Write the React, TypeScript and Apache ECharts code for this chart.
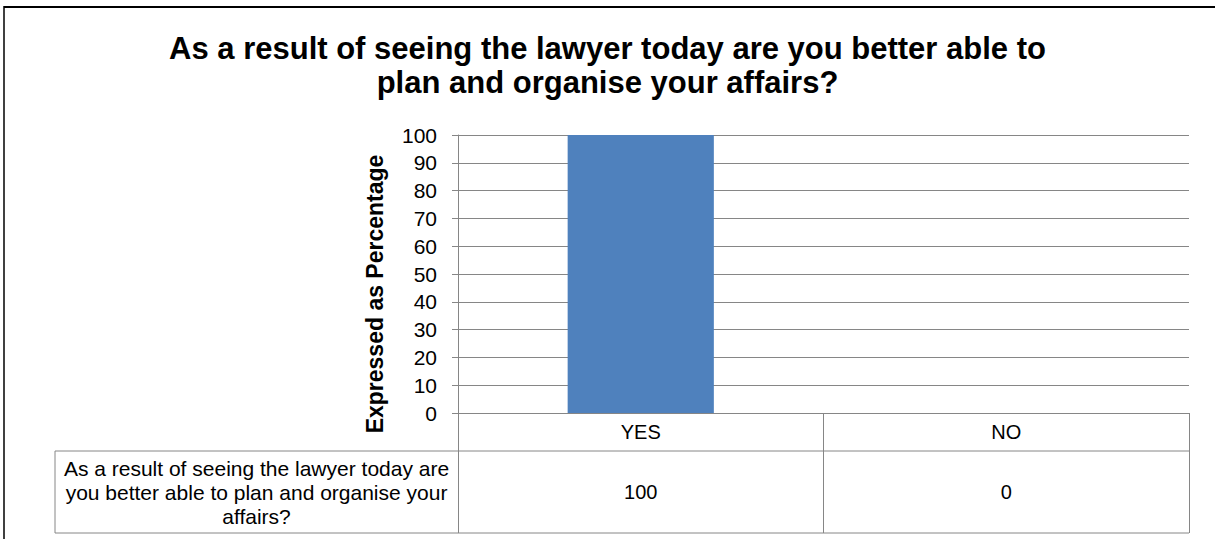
import React, { useEffect, useRef } from "react";
import * as echarts from "echarts";

// ---- data ----
const categories: string[] = ["YES", "NO"];
const values: number[] = [100, 0];
const seriesName =
  "As a result of seeing the lawyer today are you better able to plan and organise your affairs?";
const rowLabelLines: string[] = [
  "As a result of seeing the lawyer today are",
  "you better able to plan and organise your",
  "affairs?",
];
const titleLines: string[] = [
  "As a result of seeing the lawyer today are you better able to",
  "plan and organise your affairs?",
];
const yAxisTitle = "Expressed as Percentage";
const yMin = 0;
const yMax = 100;
const yInterval = 10;

// ---- layout / style ----
const FONT = "Arial, 'Liberation Sans', sans-serif";
const GRAY = "#868686";
const BAR = "#4F81BD";
const GRID_LEFT = 458;
const GRID_RIGHT_X = 1189;
const GRID_TOP = 135;
const GRID_BOTTOM_Y = 413;
const ROW_SEP_Y = 451;
const TABLE_BOTTOM_Y = 533;
const TABLE_LEFT_X = 55;

export default function App() {
  const ref = useRef<HTMLDivElement>(null);

  useEffect(() => {
    document.body.style.margin = "0";
    const chart = echarts.init(ref.current as HTMLDivElement, null, { renderer: "svg" });
    chart.setOption({
      animation: false,
      backgroundColor: "#ffffff",
      title: {
        text: titleLines.join("\n"),
        left: "center",
        top: 26,
        textStyle: {
          fontFamily: FONT,
          fontSize: 31,
          fontWeight: "bold",
          color: "#000",
          lineHeight: 34,
        },
      },
      grid: {
        left: GRID_LEFT,
        right: 1215 - GRID_RIGHT_X,
        top: GRID_TOP,
        bottom: 539 - GRID_BOTTOM_Y,
        containLabel: false,
      },
      xAxis: [
        {
          type: "category",
          data: categories,
          position: "bottom",
          axisLine: { show: true, lineStyle: { color: GRAY, width: 1 } },
          axisTick: {
            show: true,
            length: TABLE_BOTTOM_Y - GRID_BOTTOM_Y,
            lineStyle: { color: GRAY, width: 1 },
          },
          axisLabel: {
            margin: 7,
            fontSize: 20,
            color: "#000",
            fontFamily: FONT,
            lineHeight: 24,
          },
        },
        {
          type: "category",
          data: categories,
          position: "bottom",
          offset: ROW_SEP_Y - GRID_BOTTOM_Y,
          axisLine: { show: false },
          axisTick: { show: false },
          axisLabel: {
            margin: 29,
            fontSize: 20,
            color: "#000",
            fontFamily: FONT,
            lineHeight: 24,
            formatter: (_v: string, i: number) => String(values[i]),
          },
        },
      ],
      yAxis: {
        type: "value",
        min: yMin,
        max: yMax,
        interval: yInterval,
        axisLine: { show: true, lineStyle: { color: GRAY, width: 1 } },
        axisTick: { show: true, length: 6, lineStyle: { color: GRAY, width: 1 } },
        axisLabel: {
          margin: 21,
          fontSize: 21,
          color: "#000",
          fontFamily: FONT,
        },
        splitLine: { show: true, lineStyle: { color: GRAY, width: 1 } },
      },
      series: [
        {
          type: "bar",
          name: seriesName,
          data: values,
          xAxisIndex: 0,
          barWidth: "40%",
          itemStyle: { color: BAR },
        },
      ],
      graphic: [
        {
          type: "line",
          shape: { x1: 4, y1: 7, x2: 1215, y2: 7 },
          style: { stroke: "#000", lineWidth: 2 },
          silent: true,
        },
        {
          type: "line",
          shape: { x1: 4, y1: 6, x2: 4, y2: 539 },
          style: { stroke: "#000", lineWidth: 1.5 },
          silent: true,
        },
        {
          type: "line",
          shape: { x1: TABLE_LEFT_X, y1: ROW_SEP_Y, x2: GRID_RIGHT_X, y2: ROW_SEP_Y },
          style: { stroke: GRAY, lineWidth: 1 },
          silent: true,
        },
        {
          type: "line",
          shape: { x1: TABLE_LEFT_X, y1: TABLE_BOTTOM_Y, x2: GRID_RIGHT_X, y2: TABLE_BOTTOM_Y },
          style: { stroke: GRAY, lineWidth: 1 },
          silent: true,
        },
        {
          type: "line",
          shape: { x1: TABLE_LEFT_X, y1: ROW_SEP_Y, x2: TABLE_LEFT_X, y2: TABLE_BOTTOM_Y },
          style: { stroke: GRAY, lineWidth: 1 },
          silent: true,
        },
        {
          type: "text",
          x: (TABLE_LEFT_X + GRID_LEFT) / 2,
          y: (ROW_SEP_Y + TABLE_BOTTOM_Y) / 2,
          silent: true,
          style: {
            text: rowLabelLines.join("\n"),
            fontFamily: FONT,
            fontSize: 21,
            lineHeight: 24,
            fill: "#000",
            textAlign: "center",
            textVerticalAlign: "middle",
            align: "center",
            verticalAlign: "middle",
          },
        },
        {
          type: "text",
          x: 375,
          y: 294,
          rotation: Math.PI / 2,
          silent: true,
          style: {
            text: yAxisTitle,
            fontFamily: FONT,
            fontSize: 23,
            fontWeight: "bold",
            fill: "#000",
            textAlign: "center",
            textVerticalAlign: "middle",
            align: "center",
            verticalAlign: "middle",
          },
        },
      ],
    });
    return () => chart.dispose();
  }, []);

  return <div ref={ref} style={{ width: 1215, height: 539 }} />;
}
